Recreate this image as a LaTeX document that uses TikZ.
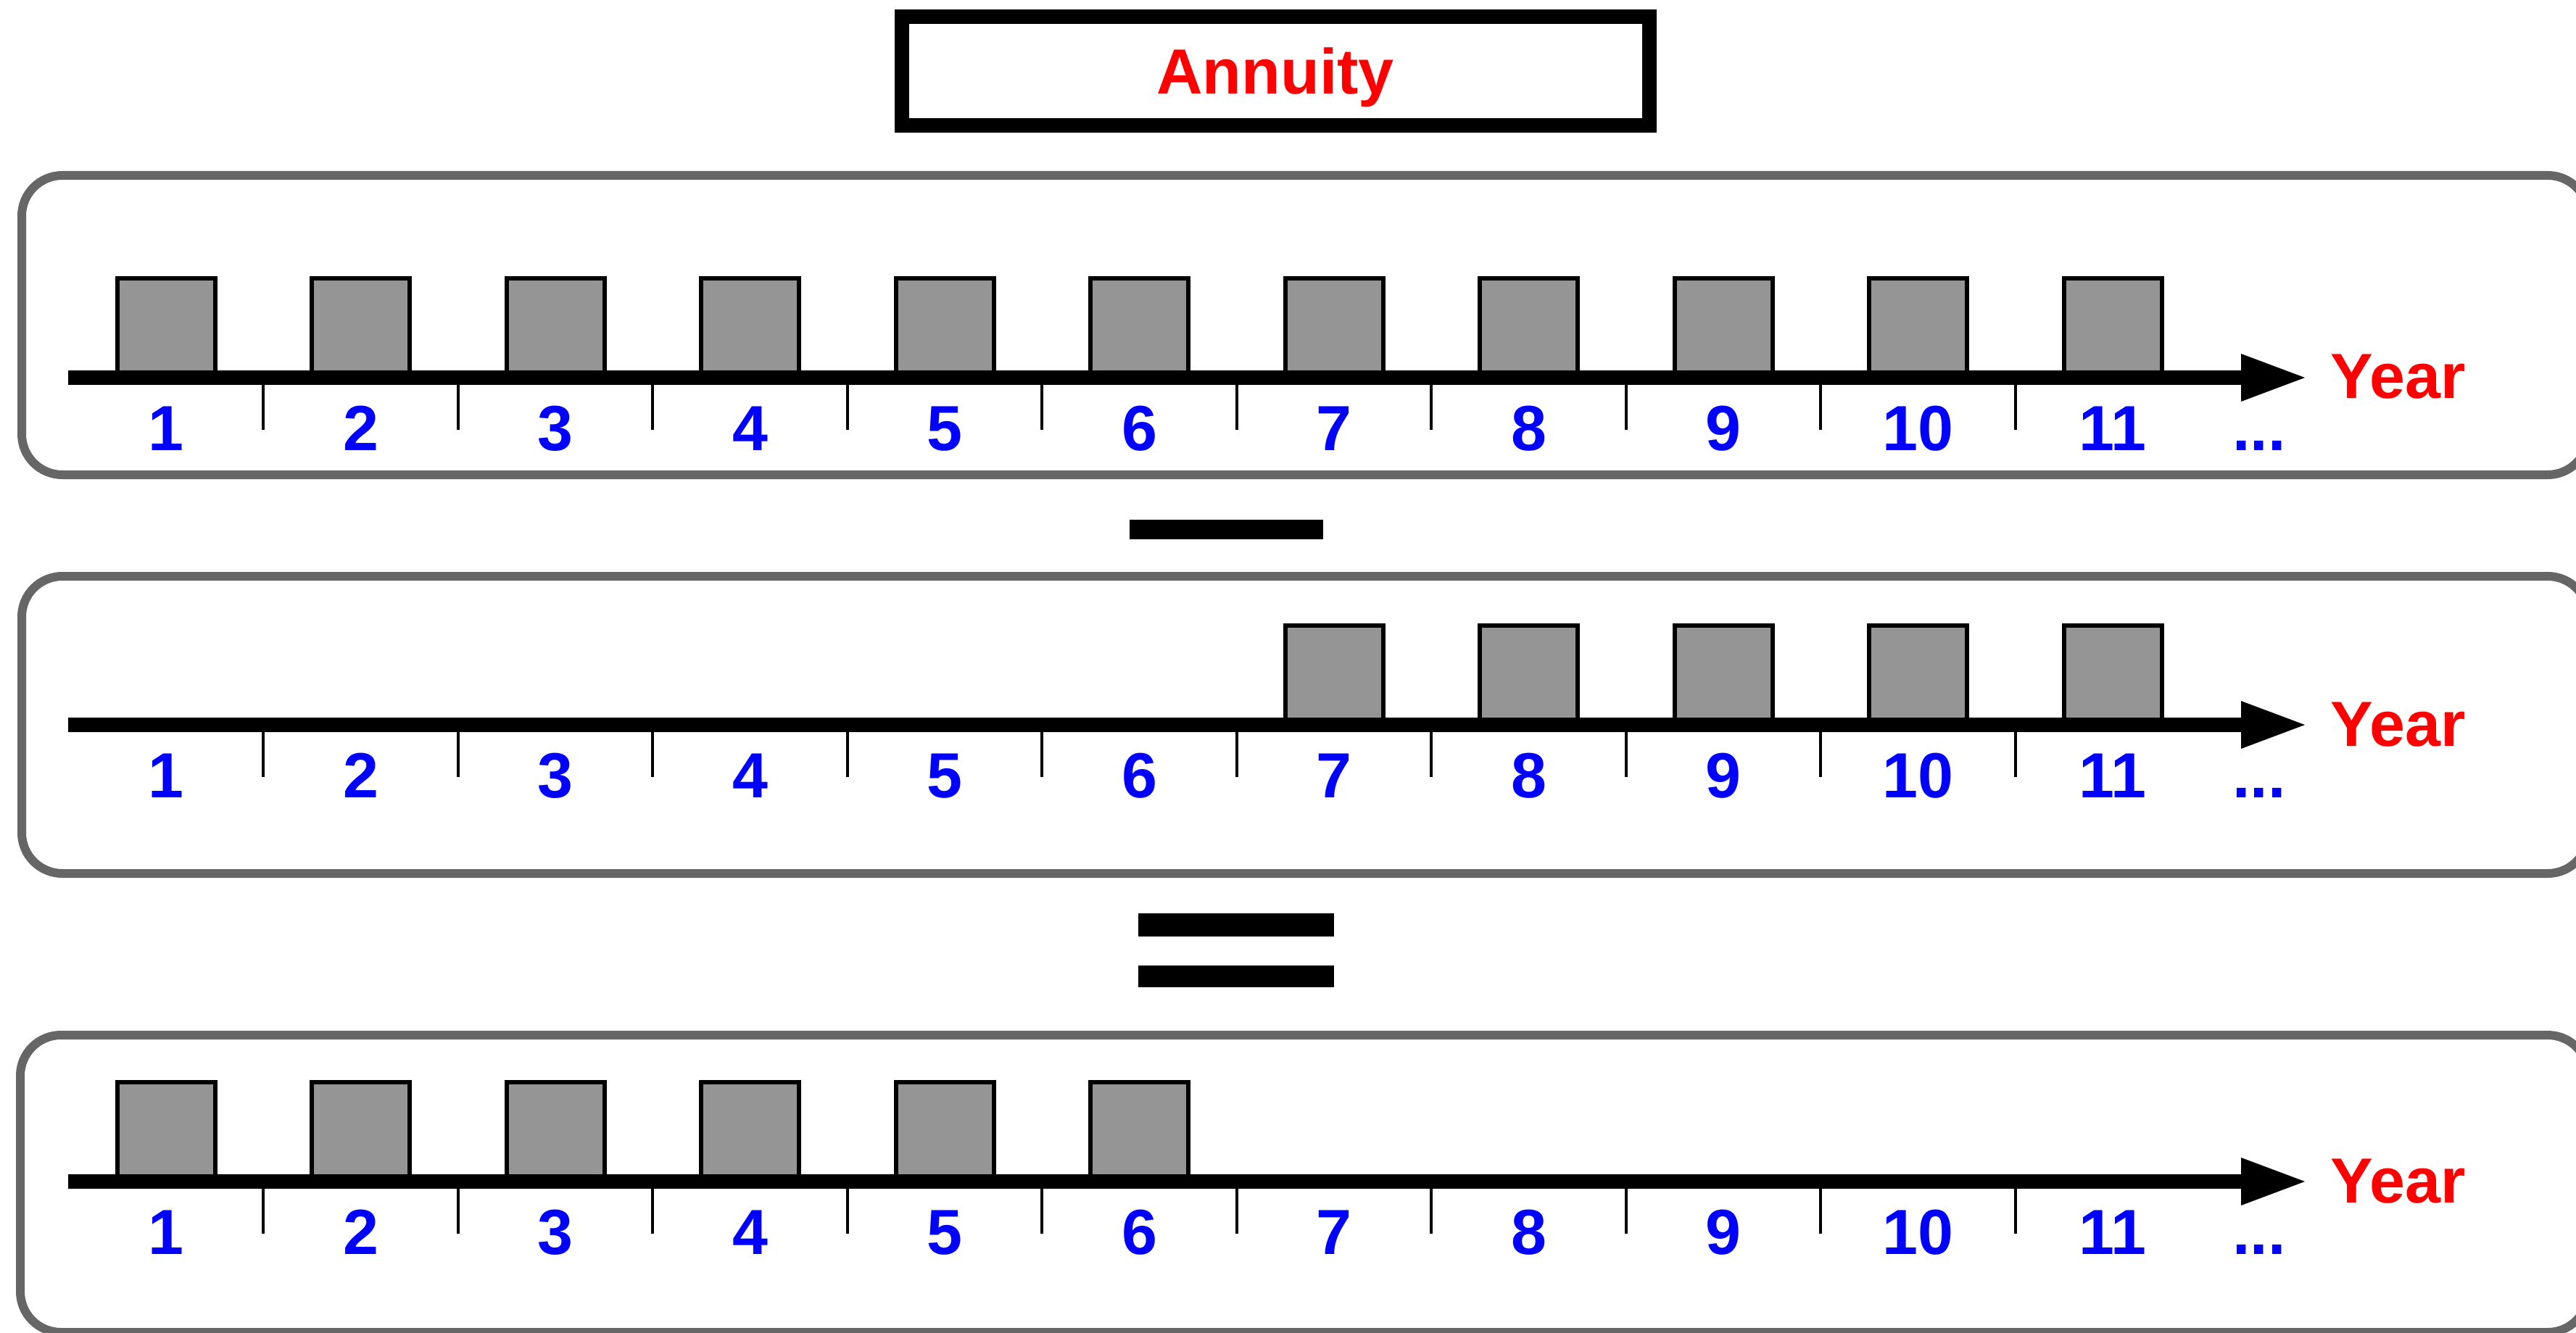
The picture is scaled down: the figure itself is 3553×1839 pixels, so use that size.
\documentclass[tikz,border=0pt]{standalone}
\usepackage{fontspec}
\setmainfont{Liberation Sans}
\definecolor{panelgray}{HTML}{666666}
\definecolor{boxgray}{HTML}{959595}
\tikzset{
  panel/.style={draw=panelgray, line width=3pt, rounded corners=14pt},
  titlebox/.style={draw=black, line width=5pt},
  paybox/.style={draw=black, fill=boxgray, line width=1.5pt},
  axisline/.style={line width=5pt},
  tickline/.style={line width=1pt},
  yearnum/.style={text=blue, font=\bfseries\fontsize{22}{26}\selectfont, anchor=base, inner sep=0pt},
  yearlbl/.style={text=red, font=\bfseries\fontsize{22}{26}\selectfont, anchor=base west, inner sep=0pt},
  titletext/.style={text=red, font=\bfseries\fontsize{22}{26}\selectfont, anchor=base, inner sep=0pt},
  opbar/.style={fill=black},
}
\newcommand\mytimeline[4]{% #1 name, #2 axis y, #3 first box, #4 last box
  \coordinate (#1s) at (94,#2);
  \coordinate (#1e) at (3095,#2);
  \coordinate (#1t) at (3179,#2);
  \foreach \k in {#3,...,#4} {
    \pgfmathsetmacro\cx{229+(\k-1)*268.5}
    \draw[paybox] (\cx-67.5,#2) rectangle (\cx+67.5,#2-137);
  }
  \draw[axisline] (#1s) -- (#1e);
  \fill (3091,#2-33) -- (#1t) -- (3091,#2+33) -- cycle;
  \foreach \k in {1,...,10} {
    \pgfmathsetmacro\tx{363+(\k-1)*268.5}
    \draw[tickline] (\tx,#2) -- (\tx,#2+72);
  }
  \foreach \k in {1,...,11} {
    \pgfmathsetmacro\cx{229+(\k-1)*268.5}
    \node[yearnum] (#1n\k) at (\cx,#2+100) {\k};
  }
  \node[yearnum] (#1dots) at (3116,#2+100) {...};
  \node[yearlbl] (#1year) at (3214,#2+29) {Year};
}
\begin{document}
\begin{tikzpicture}[x=0.25pt,y=-0.25pt]
  \useasboundingbox (0,0) rectangle (3553,1839);
  \clip (0,0) rectangle (3553,1839);
  \fill[white] (0,0) rectangle (3553,1839);
  % title
  \draw[titlebox] (1244,23) rectangle (2275,173);
  \node[titletext] (title) at (1759,130) {Annuity};
  % panels
  \draw[panel] (30,242) rectangle (3570,655);
  \mytimeline{a}{521}{1}{11}
  \fill[opbar] (1558,717) rectangle (1825,744);
  \draw[panel] (30,795) rectangle (3570,1205);
  \mytimeline{b}{1000}{7}{11}
  \fill[opbar] (1570,1260) rectangle (1840,1292);
  \fill[opbar] (1570,1332) rectangle (1840,1362);
  \draw[panel] (28,1428) rectangle (3570,1838);
  \mytimeline{c}{1630}{1}{6}
\end{tikzpicture}
\end{document}
